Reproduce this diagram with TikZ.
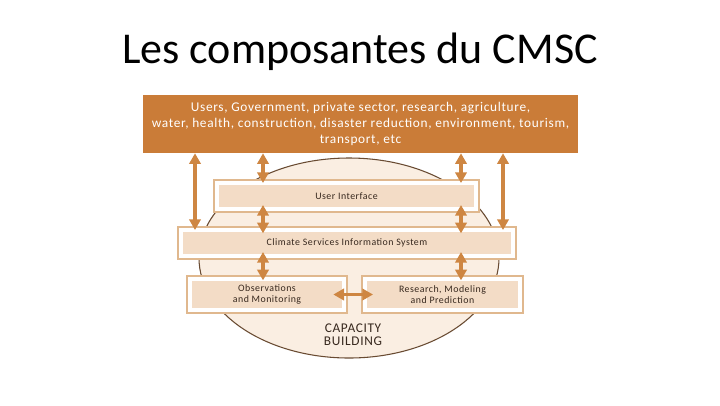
\documentclass[tikz,border=0pt]{standalone}
\usepackage{fontspec}
\setmainfont{Carlito}
\newfontfamily\cmfont[LetterSpace=5]{Carlito}
\usepackage{xcolor}
\usepackage{tikz}
\usetikzlibrary{shapes.geometric, arrows.meta}
\definecolor{CMOrange}{RGB}{202,124,56}
\definecolor{CMArrow}{RGB}{206,134,66}
\definecolor{CMTan}{RGB}{224,184,142}
\definecolor{CMFill}{RGB}{243,220,198}
\definecolor{CMOval}{RGB}{250,238,226}
\definecolor{CMBrown}{RGB}{105,75,50}
\definecolor{CMText}{RGB}{55,40,30}

\begin{document}
\begin{tikzpicture}[x=0.75pt, y=-0.75pt,
          box/.style={rectangle, draw=CMTan, line width=1.5pt, fill=white, inner sep=0pt,
                      align=center, font=\cmfont\fontsize{7.4}{8.3}\selectfont, text=CMText,
                      path picture={\fill[CMFill]
                        ([shift={(3.5pt,3.5pt)}]path picture bounding box.south west) rectangle
                        ([shift={(-3.5pt,-3.5pt)}]path picture bounding box.north east);}},
          arr/.style={{Triangle[length=8pt,width=8.5pt]}-{Triangle[length=8pt,width=8.5pt]},
                      draw=CMArrow, line width=2.6pt}
        ]
        \useasboundingbox (0,0) rectangle (720,405);

        \node[font=\fontsize{33}{40}\selectfont] (title) at (360,52) {Les composantes du CMSC};

        \node[rectangle, fill=CMOrange, minimum width=326.25pt, minimum height=43.5pt,
              align=center, text=white, font=\cmfont\fontsize{10}{12}\selectfont] (users) at (360.5,124)
              {Users, Government, private sector, research, agriculture,\\
               water, health, construction, disaster reduction, environment, tourism,\\
               transport, etc};

        \node[ellipse, draw=CMBrown, line width=0.8pt, fill=CMOval,
              minimum width=225pt, minimum height=150pt] (oval) at (349,258) {};

        \node[box, minimum width=198.75pt, minimum height=24pt]  (ui)   at (346.5,196) {User Interface};
        \node[box, minimum width=253.5pt, minimum height=24pt]   (csis) at (347,243)
              {Climate Services Information System};
        \node[box, minimum width=120pt, minimum height=27.75pt]  (obs)  at (267,294.5)
              {Observations\\and Monitoring};
        \node[box, minimum width=120.75pt, minimum height=27.75pt] (rmp) at (442.5,294.5)
              {Research, Modeling\\and Prediction};

        \node[align=center, text=CMText, font=\cmfont\fontsize{10}{9.6}\selectfont] (capbld) at (353,335)
              {CAPACITY\\BUILDING};

        % arrow columns
        \coordinate (xa) at (195,0);
        \coordinate (xb) at (263,0);
        \coordinate (xc) at (461,0);
        \coordinate (xd) at (503,0);

        \draw[arr, shorten >=-3pt] (users.south -| xa) -- (csis.north -| xa);
        \draw[arr, shorten >=-3pt] (users.south -| xb) -- (ui.north -| xb);
        \draw[arr, shorten >=-3pt] (users.south -| xc) -- (ui.north -| xc);
        \draw[arr, shorten >=-3pt] (users.south -| xd) -- (csis.north -| xd);
        \draw[arr, shorten <=-6pt, shorten >=-5.5pt] (ui.south -| xb) -- (csis.north -| xb);
        \draw[arr, shorten <=-6pt, shorten >=-5.5pt] (ui.south -| xc) -- (csis.north -| xc);
        \draw[arr, shorten <=-6pt, shorten >=-4pt] (csis.south -| xb) -- (obs.north -| xb);
        \draw[arr, shorten <=-6pt, shorten >=-4pt] (csis.south -| xc) -- (rmp.north -| xc);
        \draw[arr, shorten <=-11pt, shorten >=-9pt] (obs.east) -- (rmp.west);
      \end{tikzpicture}
\end{document}
